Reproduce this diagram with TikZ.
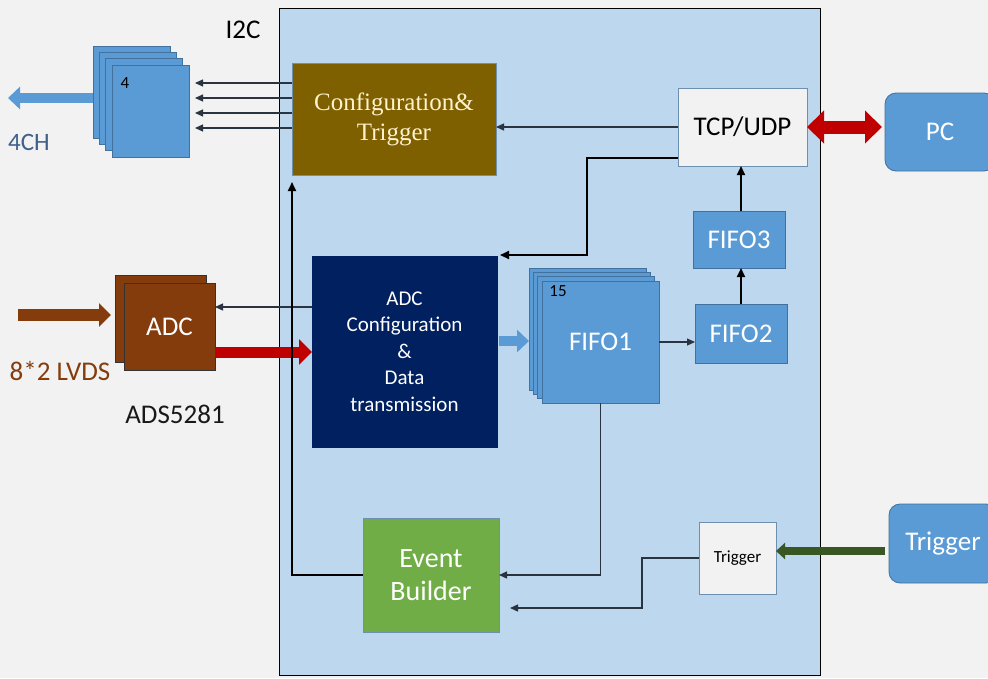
\documentclass[tikz,border=0pt]{standalone}
\usepackage{fontspec}
\setmainfont{Carlito}
\newfontfamily\serifx{Liberation Serif}
\usetikzlibrary{arrows.meta,calc}
\definecolor{colbg}{HTML}{F2F2F2}
\definecolor{colpanel}{HTML}{BDD7EE}
\definecolor{colblue}{HTML}{5B9BD5}
\definecolor{colblueb}{HTML}{41719C}
\definecolor{colcfg}{HTML}{7F6000}
\definecolor{colcream}{HTML}{FFF2CC}
\definecolor{coladcc}{HTML}{002060}
\definecolor{coladc}{HTML}{843C0C}
\definecolor{colgreen}{HTML}{70AD47}
\definecolor{colred}{HTML}{C00000}
\definecolor{coldkgreen}{HTML}{385723}
\definecolor{colgborder}{HTML}{6F8FAF}
\definecolor{col4ch}{HTML}{40608A}
\definecolor{colline}{HTML}{2A3440}
\begin{document}
\begin{tikzpicture}[x=1pt,y=-1pt,
  box/.style={draw, line width=0.8pt, inner sep=0pt, outer sep=0pt, align=center},
  bluebox/.style={box, draw=colblueb, fill=colblue, text=white},
  fnt/.style={font=\fontsize{#1}{#1}\selectfont},
  arr/.style={draw=colline, line width=1.2pt, -{Triangle[length=8pt,width=7pt]}},
  arrthick/.style={draw=black, line width=2pt, -{Triangle[length=9pt,width=8pt]}},
  blockblue/.style={draw=colblue, line width=10pt, -{Triangle[length=12pt,width=22pt]}},
  blockbrown/.style={draw=coladc, line width=12pt, -{Triangle[length=12pt,width=23pt]}},
  blockred/.style={draw=colred, line width=11pt, -{Triangle[length=13pt,width=25pt]}},
  blockred2/.style={draw=colred, line width=13pt, {Triangle[length=17pt,width=32pt]}-{Triangle[length=17pt,width=32pt]}},
  blockgreen/.style={draw=coldkgreen, line width=8pt, -{Triangle[length=9pt,width=16pt]}}
]
\fill[colbg] (0,0) rectangle (988,678);
\useasboundingbox (0,0) rectangle (988,678);
\begin{scope}
\clip (0,0) rectangle (988,678);

% main panel
\node[box, draw=black, fill=colpanel, minimum width=541pt, minimum height=667pt] (panel) at (549.5,341.5) {};

% 4-stack
\foreach \k in {3,2,1}
  \node[bluebox, minimum width=77pt, minimum height=92pt] (s4\k) at ({150.5-6.33*\k},{111-6.33*\k}) {};
\node[bluebox, minimum width=77pt, minimum height=92pt] (s40) at (150.5,111) {};
\node[fnt=17, text=black] (l4) at ($(s40.north west)+(13,18)$) {4};

\node[fnt=25, text=col4ch] (l4ch) at (29,142) {4CH};
\node[fnt=27, text=black] (li2c) at (243,30) {I2C};

% configuration & trigger
\node[box, draw=colgborder, fill=colcfg, text=colcream, font=\serifx\fontsize{25}{30}\selectfont,
      minimum width=204pt, minimum height=112pt] (cfg) at (394,119) {Configuration\&\\Trigger};

% TCP/UDP and PC
\node[box, draw=colgborder, fill=colbg, fnt=27, minimum width=129pt, minimum height=78pt] (tcp) at (742.5,127) {TCP/UDP};
\node[bluebox, rounded corners=11pt, fnt=27, minimum width=110pt, minimum height=78pt] (pc) at (940,132) {PC};

% FIFOs
\node[bluebox, fnt=27, minimum width=92pt, minimum height=57pt] (fifo3) at (739,239.5) {FIFO3};
\node[bluebox, fnt=27, minimum width=92pt, minimum height=59pt] (fifo2) at (741,333.5) {FIFO2};
\foreach \k in {3,2,1}
  \node[bluebox, minimum width=117pt, minimum height=122pt] (f1\k) at ({600.5-4.33*\k},{342-4.33*\k}) {};
\node[bluebox, fnt=27, minimum width=117pt, minimum height=122pt] (f10) at (600.5,342) {FIFO1};
\node[fnt=17, text=black] (l15) at ($(f10.north west)+(16,10)$) {15};

% ADC configuration
\node[box, draw=coladcc, fill=coladcc, text=white, font=\fontsize{21}{26.5}\selectfont,
      minimum width=185pt, minimum height=191pt] (adcc) at (404.5,351.5)
      {ADC\\Configuration\\\&\\Data\\transmission};

% ADC stack
\node[box, draw=black!80, fill=coladc, minimum width=91pt, minimum height=87pt] (adcb) at (160.5,318.5) {};
\node[box, draw=black!80, fill=coladc, text=white, fnt=27, minimum width=91pt, minimum height=87pt] (adc) at (169.5,326.5) {ADC};
\node[fnt=27, text=coladc] (llvds) at (60,371) {8*2 LVDS};
\node[fnt=27, text=black!90] (lads) at (175,414) {ADS5281};

% Event builder and trigger
\node[box, draw=colgborder, fill=colgreen, text=white, font=\fontsize{28}{33}\selectfont,
      minimum width=136pt, minimum height=114pt] (evb) at (431,575) {Event\\Builder};
\node[box, draw=colgborder, fill=colbg, fnt=17, minimum width=77pt, minimum height=72pt] (trg) at (737.5,558) {Trigger};
\node[bluebox, rounded corners=11pt, fnt=27, minimum width=108pt, minimum height=79pt] (trigR) at (943,543.5) {Trigger};

% ---- connectors ----
\coordinate (c4) at (8,98);
\draw[blockblue] (c4 -| s43.west) -- (c4);
\coordinate (s4r) at (195,0);
\foreach \yy in {83,98,113,128} {
  \coordinate (pp) at (0,\yy);
  \draw[arr] (cfg.west |- pp) -- (s4r |- pp);
}
\draw[arr] (tcp.west) -- (tcp.west -| cfg.east);
\draw[blockred2] (tcp.east) -- ([xshift=-3pt]tcp.east -| pc.west);
\draw[arrthick] (fifo2.north) -- (fifo2.north |- fifo3.south);
\draw[arrthick] (fifo3.north -| fifo2.north) -- (fifo2.north |- tcp.south);
\draw[arr] (f10.east) -- (f10.east -| fifo2.west);
\draw[arrthick] ([yshift=-31pt]tcp.west) -| ([xshift=90pt,yshift=1pt]adcc.north east) -- ([xshift=3pt,yshift=1pt]adcc.north east);

\coordinate (bl) at (18,315);
\draw[blockbrown] (bl) -- ([xshift=-4pt]bl -| adcb.west);
\coordinate (a1) at (0,307);
\draw[arr] (adcc.west |- a1) -- (adc.east |- a1);
\coordinate (a2) at (0,352);
\draw[blockred] (adc.east |- a2) -- (adcc.west |- a2);
\coordinate (a3) at (0,341);
\draw[blockblue] ([xshift=2pt]adcc.east |- a3) -- (f13.west |- a3);

\draw[arrthick] (evb.west) -| ([yshift=-7pt]cfg.south west);
\draw[arr] (f10.south) |- (evb.east);
\coordinate (ev2) at ([xshift=11pt,yshift=-33pt]evb.east);
\coordinate (tq) at (642,0);
\draw[arr] (trg.west) -| (tq |- ev2) -- (ev2);
\coordinate (g1) at (885,551);
\draw[blockgreen] (g1) -- (g1 -| trg.east);
\end{scope}
\end{tikzpicture}
\end{document}
